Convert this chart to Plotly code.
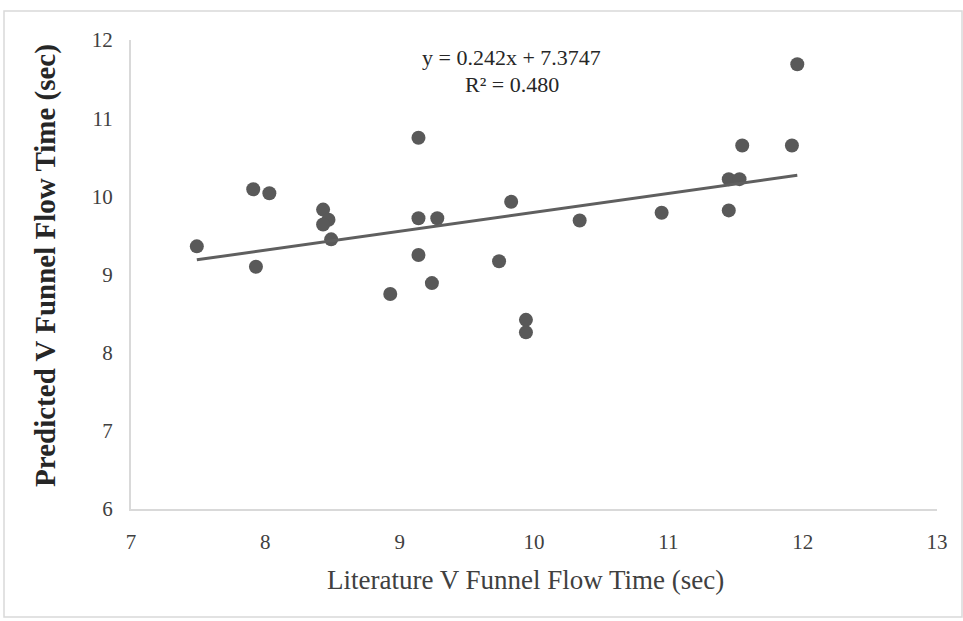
import plotly.graph_objects as go

# Data
literature_time = [7.49, 7.91, 8.03, 7.93, 8.43, 8.47, 8.43, 8.49, 8.93, 9.14,
                   9.14, 9.28, 9.14, 9.24, 9.74, 9.83, 9.94, 9.94, 10.34, 10.95,
                   11.45, 11.45, 11.53, 11.55, 11.92, 11.96]
predicted_time = [9.36, 10.09, 10.04, 9.10, 9.83, 9.70, 9.64, 9.45, 8.75, 10.75,
                  9.72, 9.72, 9.25, 8.89, 9.17, 9.93, 8.42, 8.26, 9.69, 9.79,
                  9.82, 10.22, 10.22, 10.65, 10.65, 11.69]
trend_slope = 0.242
trend_intercept = 7.3747
r_squared = 0.480
x_ticks = [7, 8, 9, 10, 11, 12, 13]
y_ticks = [6, 7, 8, 9, 10, 11, 12]

x_min, x_max = min(literature_time), max(literature_time)
trend_x = [x_min, x_max]
trend_y = [trend_slope * v + trend_intercept for v in trend_x]

fig = go.Figure()
fig.add_trace(go.Scatter(
    x=literature_time, y=predicted_time, mode="markers",
    marker=dict(size=14, color="#595959"), showlegend=False, hoverinfo="x+y"))
fig.add_trace(go.Scatter(
    x=trend_x, y=trend_y, mode="lines",
    line=dict(color="#5f5f5f", width=3), showlegend=False, hoverinfo="skip"))

serif = "Liberation Serif, Times New Roman, serif"
axis_common = dict(showgrid=False, zeroline=False, showline=True, linecolor="#d9d9d9",
                   linewidth=2, ticks="", tickfont=dict(family=serif, size=21, color="#404040"))

fig.update_layout(
    width=963, height=621,
    margin=dict(l=131, r=26, t=40, b=112),
    paper_bgcolor="white", plot_bgcolor="white",
    xaxis=dict(range=[7, 13], tickvals=x_ticks, ticklabelstandoff=13, **axis_common),
    yaxis=dict(range=[6, 12], tickvals=y_ticks, ticklabelstandoff=12, **axis_common),
    annotations=[
        dict(text="Literature V Funnel Flow Time (sec)", xref="paper", yref="paper",
             x=0.49, y=-0.151, xanchor="center", yanchor="middle", showarrow=False,
             font=dict(family=serif, size=27, color="#404040")),
        dict(text="<b>Predicted V Funnel Flow Time (sec)</b>", xref="paper", yref="paper",
             x=-0.107, y=0.52, xanchor="center", yanchor="middle", showarrow=False,
             textangle=-90, font=dict(family=serif, size=29, color="#262626")),
        dict(text=f"y = {trend_slope}x + {trend_intercept}", xref="paper", yref="paper",
             x=0.4727, y=1 - (57 - 40) / 469, xanchor="center", yanchor="middle",
             showarrow=False, font=dict(family=serif, size=22, color="#262626")),
        dict(text=f"R² = {r_squared:.3f}", xref="paper", yref="paper",
             x=0.4727, y=1 - (85 - 40) / 469, xanchor="center", yanchor="middle",
             showarrow=False, font=dict(family=serif, size=22, color="#262626")),
    ],
    shapes=[dict(type="rect", xref="paper", yref="paper",
                 x0=(4 - 131) / 806, x1=(962 - 131) / 806,
                 y0=-(617 - 509) / 469, y1=1 + (40 - 11) / 469,
                 line=dict(color="#d9d9d9", width=1.5), layer="below")],
)

fig.write_html("out.html")
